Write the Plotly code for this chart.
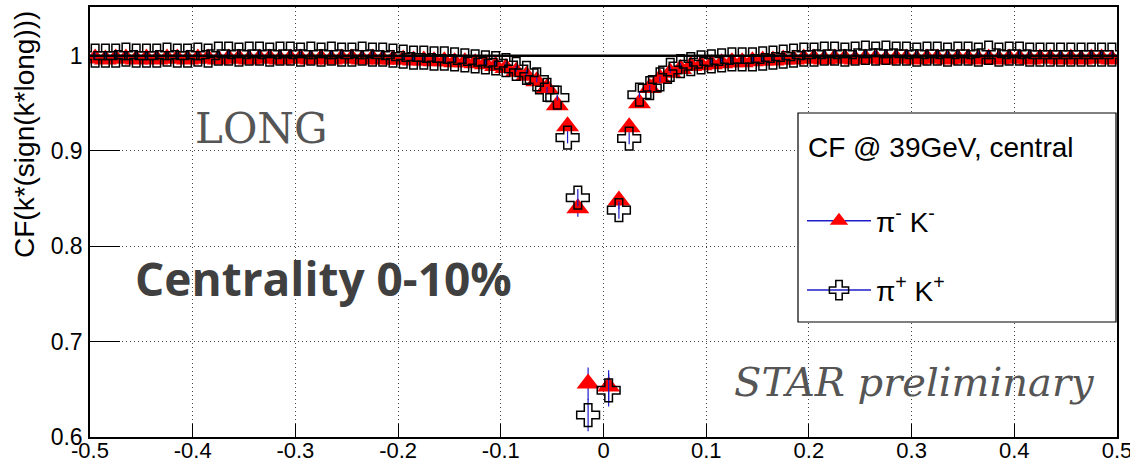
import plotly.graph_objects as go

# bin centres of k* (sign k*long), GeV/c
kstar = [-0.495, -0.485, -0.475, -0.465, -0.455, -0.445, -0.435, -0.425, -0.415, -0.405,
         -0.395, -0.385, -0.375, -0.365, -0.355, -0.345, -0.335, -0.325, -0.315, -0.305,
         -0.295, -0.285, -0.275, -0.265, -0.255, -0.245, -0.235, -0.225, -0.215, -0.205,
         -0.195, -0.185, -0.175, -0.165, -0.155, -0.145, -0.135, -0.125, -0.115, -0.105,
         -0.095, -0.085, -0.075, -0.065, -0.055, -0.045, -0.035, -0.025, -0.015, -0.005,
         0.005, 0.015, 0.025, 0.035, 0.045, 0.055, 0.065, 0.075, 0.085, 0.095,
         0.105, 0.115, 0.125, 0.135, 0.145, 0.155, 0.165, 0.175, 0.185, 0.195,
         0.205, 0.215, 0.225, 0.235, 0.245, 0.255, 0.265, 0.275, 0.285, 0.295,
         0.305, 0.315, 0.325, 0.335, 0.345, 0.355, 0.365, 0.375, 0.385, 0.395,
         0.405, 0.415, 0.425, 0.435, 0.445, 0.455, 0.465, 0.475, 0.485, 0.495]

# pi- K- correlation function
cf_pim_km = [0.997, 0.996, 0.997, 0.997, 0.996, 0.997, 0.996, 0.997, 0.997, 0.996,
             0.997, 0.997, 0.996, 0.997, 0.997, 0.996, 0.997, 0.997, 0.996, 0.997,
             0.997, 0.996, 0.997, 0.996, 0.997, 0.997, 0.996, 0.997, 0.996, 0.996,
             0.996, 0.995, 0.995, 0.994, 0.994, 0.993, 0.993, 0.992, 0.991, 0.989,
             0.987, 0.983, 0.979, 0.973, 0.966, 0.948, 0.926, 0.840, 0.656, None,
             0.653, 0.848, 0.925, 0.950, 0.966, 0.976, 0.982, 0.986, 0.989, 0.990,
             0.991, 0.992, 0.993, 0.993, 0.994, 0.995, 0.995, 0.996, 0.996, 0.997,
             0.997, 0.996, 0.997, 0.997, 0.996, 0.997, 0.997, 0.996, 0.997, 0.997,
             0.996, 0.997, 0.997, 0.996, 0.997, 0.997, 0.996, 0.997, 0.996, 0.997,
             0.997, 0.996, 0.997, 0.997, 0.996, 0.997, 0.996, 0.997, 0.997, 0.996]
err_pim_km = [0.003] * 46 + [0.006, 0.009, 0.017, None, 0.017, 0.009, 0.006] + [0.003] * 47

# pi+ K+ correlation function
cf_pip_kp = [1.000, 1.000, 1.000, 1.001, 1.000, 1.000, 1.000, 1.001, 1.000, 1.000,
             1.001, 1.000, 1.002, 1.002, 1.001, 1.002, 1.002, 1.001, 1.002, 1.002,
             1.001, 1.002, 1.001, 1.002, 1.001, 1.001, 1.002, 1.001, 1.001, 1.000,
             0.999, 0.998, 0.998, 0.997, 0.997, 0.996, 0.995, 0.994, 0.993, 0.992,
             0.990, 0.986, 0.982, 0.975, 0.964, 0.956, 0.914, 0.851, 0.623, None,
             0.649, 0.838, 0.913, 0.959, 0.966, 0.975, 0.985, 0.989, 0.991, 0.993,
             0.994, 0.995, 0.996, 0.996, 0.996, 0.997, 0.998, 0.999, 1.000, 1.001,
             1.001, 1.002, 1.002, 1.001, 1.002, 1.003, 1.002, 1.003, 1.002, 1.002,
             1.001, 1.002, 1.002, 1.001, 1.002, 1.002, 1.001, 1.003, 1.001, 1.002,
             1.002, 1.001, 1.001, 1.001, 1.001, 1.001, 1.001, 1.001, 1.001, 1.001]
err_pip_kp = [0.003] * 46 + [0.006, 0.009, 0.017, None, 0.017, 0.009, 0.006] + [0.003] * 47

x_tickvals = [-0.5, -0.4, -0.3, -0.2, -0.1, 0.0, 0.1, 0.2, 0.3, 0.4, 0.5]
x_ticktext = ["-0.5", "-0.4", "-0.3", "-0.2", "-0.1", "0", "0.1", "0.2", "0.3", "0.4", "0.5"]
y_tickvals = [0.6, 0.7, 0.8, 0.9, 1.0]
y_ticktext = ["0.6", "0.7", "0.8", "0.9", "1"]

ERR_BLUE = "#1c1cc8"
TRI_SIZE = 20
CROSS_SIZE = 19

fig = go.Figure()
fig.add_trace(go.Scatter(
    x=kstar, y=cf_pim_km, mode="markers", showlegend=False,
    marker=dict(symbol="triangle-up", size=TRI_SIZE, color="#ff0000", line=dict(width=0)),
    error_y=dict(type="data", array=err_pim_km, color=ERR_BLUE, thickness=1.2, width=0),
))
fig.add_trace(go.Scatter(
    x=kstar, y=cf_pip_kp, mode="markers", showlegend=False,
    marker=dict(symbol="cross-open", size=CROSS_SIZE, color="black", line=dict(width=1.5, color="black")),
    error_y=dict(type="data", array=err_pip_kp, color=ERR_BLUE, thickness=1.2, width=0),
))
# legend entries
fig.add_trace(go.Scatter(
    x=[None], y=[None], mode="lines+markers", name="π<sup>-</sup> K<sup>-</sup>",
    legendgroup="a",
    line=dict(color=ERR_BLUE, width=1.5),
    marker=dict(symbol="triangle-up", size=TRI_SIZE, color="#ff0000", line=dict(width=0)),
))
fig.add_trace(go.Scatter(
    x=[None], y=[None], mode="lines+markers", name="π<sup>+</sup> K<sup>+</sup>",
    legendgroup="b",
    line=dict(color=ERR_BLUE, width=1.5),
    marker=dict(symbol="cross-open", size=CROSS_SIZE, color="black", line=dict(width=1.5, color="black")),
))

W, H = 1130, 464
ML, MR, MT, MB = 90, 13, 7, 27
PW, PH = W - ML - MR, H - MT - MB

def px_x(p):
    return (p - ML) / PW

def px_y(p):
    return (H - MB - p) / PH

fig.update_layout(
    width=W, height=H,
    margin=dict(l=ML, r=MR, t=MT, b=MB, pad=0),
    paper_bgcolor="white", plot_bgcolor="white",
    font=dict(family="Liberation Sans, Arial, sans-serif", color="black"),
    xaxis=dict(
        range=[-0.5, 0.5], tickvals=x_tickvals, ticktext=x_ticktext, automargin=False,
        ticklabeloverflow="allow", ticklabelstandoff=-7,
        tickfont=dict(size=22), ticks="inside", ticklen=13, tickcolor="black", tickwidth=1,
        showgrid=True, gridcolor="#444444", gridwidth=1, griddash="1px,3px",
        showline=True, linecolor="black", linewidth=1.5, mirror=True, zeroline=False,
    ),
    yaxis=dict(
        range=[0.6, 1.051], tickvals=y_tickvals, ticktext=y_ticktext, automargin=False,
        ticklabeloverflow="allow",
        tickfont=dict(size=23), ticks="inside", ticklen=30, tickcolor="black", tickwidth=1,
        showgrid=True, gridcolor="#444444", gridwidth=1, griddash="1px,3px",
        showline=True, linecolor="black", linewidth=1.5, mirror=True, zeroline=False,
        ticklabelstandoff=1,
    ),
    showlegend=True,
    legend=dict(
        x=px_x(802), y=px_y(196), xanchor="left", yanchor="top",
        bgcolor="rgba(0,0,0,0)", borderwidth=0,
        font=dict(size=28, family="Liberation Sans, Arial, sans-serif"),
        itemwidth=64, tracegroupgap=30, traceorder="grouped",
    ),
    shapes=[
        dict(type="line", xref="paper", x0=0, x1=1, yref="y", y0=1.0, y1=1.0,
             line=dict(color="black", width=2.5), layer="above"),
        dict(type="rect", xref="paper", yref="paper",
             x0=px_x(798), x1=px_x(1116), y0=px_y(322), y1=px_y(113),
             fillcolor="white", line=dict(color="black", width=1.2), layer="above"),
    ],
    annotations=[
        dict(text="CF(k*(sign(k*long)))", textangle=-90, xref="paper", yref="paper",
             x=px_x(24), y=px_y(135), xanchor="center", yanchor="middle", showarrow=False,
             font=dict(size=28, family="Liberation Sans, Arial, sans-serif", color="black")),
        dict(text="CF @ 39GeV, central", xref="paper", yref="paper",
             x=px_x(806), y=px_y(148), xanchor="left", yanchor="middle", showarrow=False,
             font=dict(size=28, family="Liberation Sans, Arial, sans-serif", color="black")),
        dict(text="LONG", xref="paper", yref="paper",
             x=px_x(261), y=px_y(128), xanchor="center", yanchor="middle", showarrow=False,
             font=dict(size=42, family="DejaVu Serif, serif", color="#555555")),
        dict(text="<b>Centrality 0-10%</b>", xref="paper", yref="paper",
             x=px_x(323), y=px_y(278), xanchor="center", yanchor="middle", showarrow=False,
             font=dict(size=46, family="Open Sans, sans-serif", color="#404040")),
        dict(text="<i>STAR preliminary</i>", xref="paper", yref="paper",
             x=px_x(914), y=px_y(382), xanchor="center", yanchor="middle", showarrow=False,
             font=dict(size=40, family="DejaVu Serif, serif", color="#555555")),
    ],
)

fig.write_html("out.html")
